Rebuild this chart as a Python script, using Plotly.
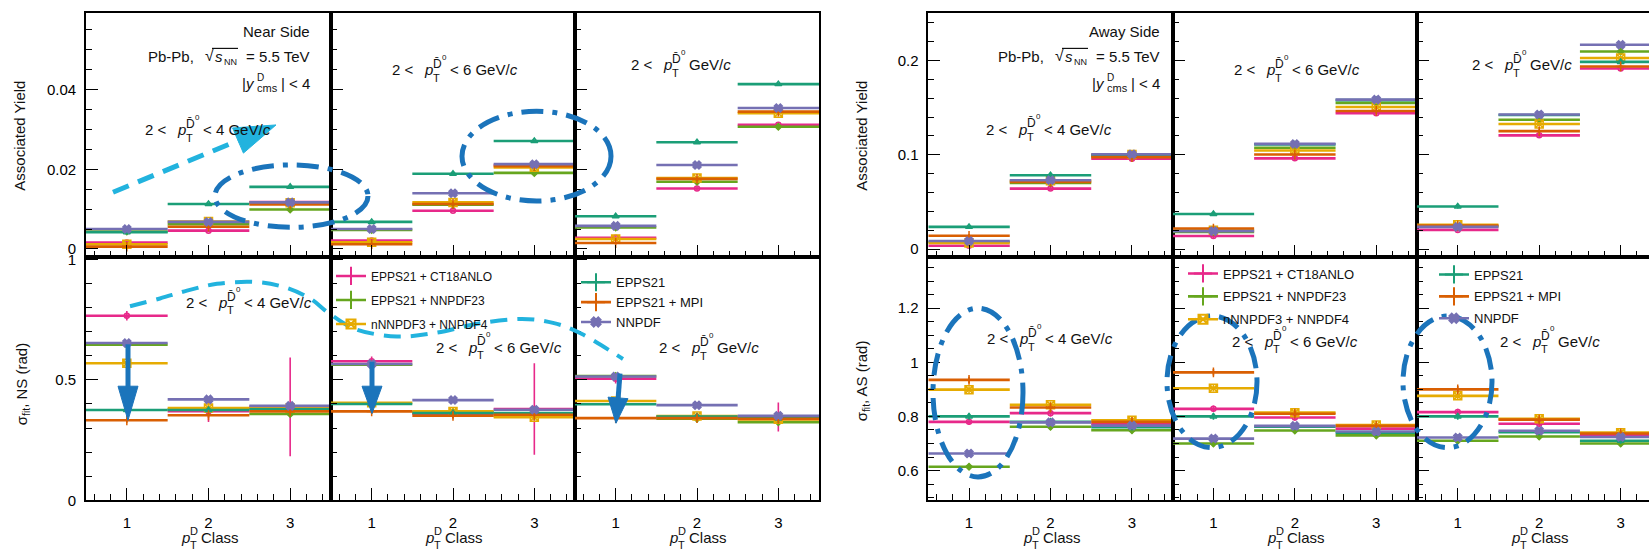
import plotly.graph_objects as go

W, H = 1649, 558
FONT = "Liberation Sans, Arial, Helvetica, sans-serif"

# ---------------------------------------------------------------- data
series = ["EPPS21 + CT18ANLO", "EPPS21 + NNPDF23", "nNNPDF3 + NNPDF4",
          "EPPS21", "EPPS21 + MPI", "NNPDF"]
colors = {
    "EPPS21 + CT18ANLO": "#e7298a",
    "EPPS21 + NNPDF23": "#66a61e",
    "nNNPDF3 + NNPDF4": "#e6ab02",
    "EPPS21": "#1b9e77",
    "EPPS21 + MPI": "#d95f02",
    "NNPDF": "#7570b3",
}
markers = {
    "EPPS21 + CT18ANLO": ("circle-open", 5),
    "EPPS21 + NNPDF23": ("diamond", 5),
    "nNNPDF3 + NNPDF4": ("square-x-open", 8),
    "EPPS21": ("triangle-up-open", 6),
    "EPPS21 + MPI": ("cross-thin-open", 7),
    "NNPDF": ("x", 7),
}
classes = [1, 2, 3]
class_half_width = [0.5, 0.5, 0.5]
# D-meson pT bins (one panel column each): 2-4, 2-6, >2 GeV/c

# Near side, associated yield  [pT bin][class]
ns_yield = {
    "EPPS21 + CT18ANLO": [[0.0016, 0.0046, 0.0118], [0.0021, 0.0096, 0.0211], [0.0028, 0.0152, 0.0312]],
    "EPPS21 + NNPDF23": [[0.0044, 0.0062, 0.0099], [0.0048, 0.0111, 0.0191], [0.0054, 0.0169, 0.0307]],
    "nNNPDF3 + NNPDF4": [[0.0012, 0.0069, 0.0116], [0.0017, 0.0117, 0.0205], [0.0025, 0.0178, 0.0341]],
    "EPPS21": [[0.0042, 0.0113, 0.0156], [0.0068, 0.0189, 0.0271], [0.0082, 0.0268, 0.0414]],
    "EPPS21 + MPI": [[0.0006, 0.0056, 0.0112], [0.0012, 0.0113, 0.0208], [0.0015, 0.0176, 0.0345]],
    "NNPDF": [[0.0050, 0.0068, 0.0117], [0.0050, 0.0140, 0.0213], [0.0058, 0.0211, 0.0354]],
}
ns_yield_err = [0.0004, 0.0004, 0.0004]

# Near side, fitted width sigma (rad)
ns_sigma = {
    "EPPS21 + CT18ANLO": [[0.766, 0.370, 0.388], [0.577, 0.360, 0.379], [0.505, 0.346, 0.346]],
    "EPPS21 + NNPDF23": [[0.646, 0.378, 0.358], [0.563, 0.366, 0.350], [0.516, 0.339, 0.324]],
    "nNNPDF3 + NNPDF4": [[0.569, 0.383, 0.383], [0.405, 0.369, 0.345], [0.412, 0.350, 0.336]],
    "EPPS21": [[0.375, 0.375, 0.378], [0.400, 0.362, 0.362], [0.399, 0.348, 0.340]],
    "EPPS21 + MPI": [[0.332, 0.353, 0.369], [0.369, 0.351, 0.355], [0.341, 0.341, 0.338]],
    "NNPDF": [[0.653, 0.419, 0.392], [0.566, 0.416, 0.376], [0.514, 0.395, 0.351]],
}
ns_sigma_err = {
    "EPPS21 + CT18ANLO": [[0.02, 0.045, 0.205], [0.02, 0.02, 0.19], [0.02, 0.015, 0.06]],
    "EPPS21 + NNPDF23": [[0.01, 0.01, 0.01], [0.01, 0.01, 0.01], [0.01, 0.01, 0.01]],
    "nNNPDF3 + NNPDF4": [[0.01, 0.02, 0.015], [0.01, 0.015, 0.01], [0.01, 0.01, 0.01]],
    "EPPS21": [[0.01, 0.01, 0.01], [0.01, 0.01, 0.01], [0.01, 0.01, 0.01]],
    "EPPS21 + MPI": [[0.01, 0.01, 0.01], [0.01, 0.01, 0.01], [0.01, 0.01, 0.01]],
    "NNPDF": [[0.01, 0.01, 0.01], [0.01, 0.01, 0.01], [0.01, 0.01, 0.01]],
}

# Away side, associated yield
as_yield = {
    "EPPS21 + CT18ANLO": [[0.0035, 0.0641, 0.0958], [0.0138, 0.0962, 0.1440], [0.0203, 0.1206, 0.1916]],
    "EPPS21 + NNPDF23": [[0.0075, 0.0700, 0.0985], [0.0182, 0.1075, 0.1551], [0.0240, 0.1371, 0.2095]],
    "nNNPDF3 + NNPDF4": [[0.0065, 0.0725, 0.1003], [0.0200, 0.1045, 0.1506], [0.0258, 0.1327, 0.2027]],
    "EPPS21": [[0.0235, 0.0782, 0.0995], [0.0372, 0.1110, 0.1580], [0.0451, 0.1422, 0.1985]],
    "EPPS21 + MPI": [[0.0140, 0.0712, 0.0975], [0.0217, 0.1003, 0.1465], [0.0250, 0.1251, 0.1937]],
    "NNPDF": [[0.0085, 0.0730, 0.1005], [0.0190, 0.1115, 0.1585], [0.0235, 0.1427, 0.2168]],
}
as_yield_err = [0.002, 0.002, 0.002]

# Away side, fitted width sigma (rad)
as_sigma = {
    "EPPS21 + CT18ANLO": [[0.780, 0.812, 0.772], [0.828, 0.796, 0.755], [0.816, 0.773, 0.730]],
    "EPPS21 + NNPDF23": [[0.614, 0.762, 0.749], [0.700, 0.748, 0.730], [0.710, 0.726, 0.700]],
    "nNNPDF3 + NNPDF4": [[0.899, 0.843, 0.786], [0.904, 0.814, 0.768], [0.876, 0.791, 0.740]],
    "EPPS21": [[0.800, 0.780, 0.760], [0.800, 0.762, 0.740], [0.800, 0.742, 0.710]],
    "EPPS21 + MPI": [[0.935, 0.833, 0.780], [0.963, 0.810, 0.765], [0.900, 0.788, 0.737]],
    "NNPDF": [[0.663, 0.778, 0.766], [0.718, 0.765, 0.744], [0.722, 0.747, 0.724]],
}
as_sigma_err = [0.012, 0.012, 0.012]

# ---------------------------------------------------------------- geometry helpers
def px(x):
    return x / W


def py(y):
    return 1 - y / H


col_edges = {0: [86, 331, 575, 819], 1: [928.3, 1172.7, 1417, 1661.4]}
row_edges = [7, 257, 507]
y_ranges = {(0, 0): [-0.0019, 0.0593], (0, 1): [0, 1.012],
            (1, 0): [-0.008, 0.2506], (1, 1): [0.49, 1.391]}
y_ticks = {(0, 0): (0.02, 0.005), (0, 1): (0.5, 0.1),
           (1, 0): (0.1, 0.02), (1, 1): (0.2, 0.05)}

panels = {
    (0, 0): (ns_yield, None, ns_yield_err),
    (0, 1): (ns_sigma, ns_sigma_err, None),
    (1, 0): (as_yield, None, as_yield_err),
    (1, 1): (as_sigma, None, as_sigma_err),
}

fig = go.Figure()
layout = {}

for g in (0, 1):
    for r in (0, 1):
        values, err_by_series, err_common = panels[(g, r)]
        for c in range(3):
            idx = g * 6 + r * 3 + c + 1
            x0p, x1p = col_edges[g][c], col_edges[g][c + 1]
            xr = [0.5, 3.5]
            cut = x1p > W
            if cut:
                xr = [0.5, 0.5 + 3 * (W - x0p) / (x1p - x0p)]
                x1p = W
            xs = "" if idx == 1 else str(idx)
            layout["xaxis" + xs] = dict(
                domain=[px(x0p), px(x1p)], range=xr, anchor="y" + xs,
                tickmode="array", tickvals=classes, ticktext=[str(v) for v in classes],
                ticks="inside", ticklen=12, tickwidth=1, tickcolor="black",
                minor=dict(tickmode="linear", tick0=0, dtick=0.2, ticks="inside",
                           ticklen=6, tickcolor="black", tickwidth=1),
                showticklabels=(r == 1), ticklabelstandoff=8,
                tickfont=dict(family=FONT, size=15, color="black"),
                showline=True, linecolor="black", linewidth=1.6, mirror=True,
                showgrid=False, zeroline=False, fixedrange=True,
            )
            dt, mdt = y_ticks[(g, r)]
            layout["yaxis" + xs] = dict(
                domain=[py(row_edges[r + 1]), py(row_edges[r])], range=y_ranges[(g, r)],
                anchor="x" + xs, tickmode="linear", tick0=0, dtick=dt,
                ticks="inside", ticklen=12, tickwidth=1, tickcolor="black",
                minor=dict(tickmode="linear", tick0=0, dtick=mdt, ticks="inside",
                           ticklen=6, tickcolor="black", tickwidth=1),
                showticklabels=(c == 0), ticklabelstandoff=5,
                tickfont=dict(family=FONT, size=15, color="black"),
                showline=True, linecolor="black", linewidth=1.6, mirror=not cut,
                showgrid=False, zeroline=False, fixedrange=True,
            )
            for name in series:
                col = colors[name]
                sym, size = markers[name]
                err = err_by_series[name][c] if err_by_series else err_common
                fig.add_trace(go.Scatter(
                    x=classes, y=values[name][c], mode="markers",
                    marker=dict(symbol=sym, size=size, color=col, line=dict(color=col, width=1.5)),
                    error_x=dict(type="data", array=class_half_width, width=0, thickness=2.6, color=col),
                    error_y=dict(type="data", array=err, width=0, thickness=1.6, color=col),
                    xaxis="x" + xs, yaxis="y" + xs, showlegend=False, name=name,
                ))

# legend entries (two legends per grid)
legend_for = {0: ("legend", "legend3"), 1: ("legend", "legend3"), 2: ("legend", "legend3"),
              3: ("legend2", "legend4"), 4: ("legend2", "legend4"), 5: ("legend2", "legend4")}
legend_marker = {
    "EPPS21 + CT18ANLO": ("cross-thin-open", 13),
    "EPPS21 + NNPDF23": ("cross-thin-open", 13),
    "nNNPDF3 + NNPDF4": ("square-x-open", 9),
    "EPPS21": ("cross-thin-open", 13),
    "EPPS21 + MPI": ("cross-thin-open", 13),
    "NNPDF": ("x", 8),
}
for i, name in enumerate(series):
    for lg in legend_for[i]:
        sym, size = legend_marker[name]
        fig.add_trace(go.Scatter(
            x=[None], y=[None], mode="lines+markers", name=name, legend=lg,
            legendgroup=lg + name,
            line=dict(color=colors[name], width=2.6),
            marker=dict(symbol=sym, size=size, color=colors[name],
                        line=dict(color=colors[name], width=2)),
        ))


def legend_box(x, y, size, gap):
    return dict(x=px(x), y=py(y), xref="paper", yref="paper", xanchor="left", yanchor="top",
                bgcolor="rgba(0,0,0,0)", borderwidth=0, tracegroupgap=gap,
                itemwidth=30, font=dict(family=FONT, size=size, color="#111"))


layout["legend"] = legend_box(331, 262, 12, 5)
layout["legend2"] = legend_box(576, 268, 13, 0)
layout["legend3"] = legend_box(1183, 259, 13, 3)
layout["legend4"] = legend_box(1434, 260, 13, 2)

# ---------------------------------------------------------------- text
annotations = []


def txt(x, y, s, size=15, xanchor="left", angle=0, color="#111"):
    annotations.append(dict(
        x=px(x), y=py(y), xref="paper", yref="paper", text=s, showarrow=False,
        xanchor=xanchor, yanchor="middle", textangle=angle, borderpad=0, borderwidth=0,
        font=dict(family=FONT, size=size, color=color),
    ))


def pt_label(pl, yc, post):
    txt(pl - 10, yc, "2 <", 15, "right")
    txt(pl, yc, "<i>p</i>", 15)
    txt(pl + 9, yc + 8, "T", 11)
    txt(pl + 9, yc - 6, "D\u0304", 12)
    txt(pl + 18, yc - 13, "0", 8)
    txt(pl + 26, yc, post, 15)


def class_title(xc):
    pl = xc - 28
    txt(pl, 545, "<i>p</i>", 15)
    txt(pl + 9, 553, "T", 11)
    txt(pl + 9, 539, "D", 11)
    txt(pl + 20, 545, "Class", 15)


def info(R, side):
    txt(R, 26.5, side, 15, "right")
    txt(R, 51.5, "= 5.5 TeV", 15, "right")
    txt(R - 73, 57, "NN", 9, "right")
    txt(R - 87, 51.5, "<i>s</i>", 15, "right")
    txt(R - 96, 51, "\u221a", 16, "right")
    txt(R - 116, 51.5, "Pb-Pb,", 15, "right")
    txt(R, 79, "| < 4", 15, "right")
    txt(R - 32, 84, "cms", 11, "right")
    txt(R - 53, 73, "D", 10)
    txt(R - 55, 79, "|<i>y</i>", 15, "right")


info(310, "Near Side")
info(1160, "Away Side")

pt_label(177, 127, "< 4 GeV/<i>c</i>")
pt_label(424, 65.5, "< 6 GeV/<i>c</i>")
pt_label(663, 60.5, "GeV/<i>c</i>")
pt_label(218, 304, "< 4 GeV/<i>c</i>")
pt_label(468, 350, "< 6 GeV/<i>c</i>")
pt_label(691, 350.5, "GeV/<i>c</i>")
pt_label(1018, 126.5, "< 4 GeV/<i>c</i>")
pt_label(1266, 65.5, "< 6 GeV/<i>c</i>")
pt_label(1504, 60.5, "GeV/<i>c</i>")
pt_label(1019, 341.5, "< 4 GeV/<i>c</i>")
pt_label(1264, 344, "< 6 GeV/<i>c</i>")
pt_label(1532, 344, "GeV/<i>c</i>")

for xc in (208.5, 453, 697, 1050.5, 1295, 1539):
    class_title(xc)

txt(20, 133, "Associated Yield", 15, "center", -90)
txt(22, 388, "\u03c3<sub>fit</sub>, NS (rad)", 15, "center", -90)
txt(862, 133, "Associated Yield", 15, "center", -90)
txt(862, 385, "\u03c3<sub>fit</sub>, AS (rad)", 15, "center", -90)

# ---------------------------------------------------------------- overlay marks
CYAN = "#22b3de"
BLUE = "#1b74bb"
DASHDOT = "22px,9px,5px,9px"
shapes = []


def pline(x0, y0, x1, y1, color, width, dash="solid"):
    shapes.append(dict(type="line", xref="paper", yref="paper", x0=px(x0), y0=py(y0),
                       x1=px(x1), y1=py(y1), line=dict(color=color, width=width, dash=dash)))


def ellipse(x0, y0, x1, y1):
    shapes.append(dict(type="circle", xref="paper", yref="paper", x0=px(x0), x1=px(x1),
                       y0=py(y1), y1=py(y0), line=dict(color=BLUE, width=5, dash=DASHDOT)))


def head(tip, base_c, half, color):
    tx, ty = tip
    bx, by = base_c
    dx, dy = tx - bx, ty - by
    L = (dx * dx + dy * dy) ** 0.5
    nx, ny = -dy / L, dx / L
    p1 = (bx + nx * half, by + ny * half)
    p2 = (bx - nx * half, by - ny * half)
    path = "M {:.5f},{:.5f} L {:.5f},{:.5f} L {:.5f},{:.5f} Z".format(
        px(tx), py(ty), px(p1[0]), py(p1[1]), px(p2[0]), py(p2[1]))
    shapes.append(dict(type="path", xref="paper", yref="paper", path=path,
                       fillcolor=color, line=dict(color=color, width=1)))


# sqrt bars over s_NN
pline(310 - 98, 43.5, 310 - 72, 43.5, "#111", 1.2)
pline(1160 - 98, 43.5, 1160 - 72, 43.5, "#111", 1.2)

# dashed cyan arrow, near-side yield
pline(113, 191, 238, 138, CYAN, 5, "17px,10px")
head((276, 122), (238, 138), 14, CYAN)

# dash-dot ellipses
ellipse(215, 163, 368, 227)
ellipse(462, 108, 611, 200)
ellipse(933, 310, 1023, 483)
ellipse(1167, 318, 1257, 453)
ellipse(1403, 318, 1492, 453)

# solid blue arrows, near-side widths
for (xa, ya, xb, yb, tip_y) in [(128, 347, 128, 392, 425), (372, 365, 372, 392, 418),
                                (620, 377, 618, 404, 428)]:
    pline(xa, ya, xb, yb, BLUE, 5)
    head((xb - (xa - xb), tip_y), (xb, yb - 2), 10, BLUE)

# dashed cyan curve across the near-side width panels
pts = [(130, 308), (160, 300), (187, 292), (217, 285), (253, 283), (283, 288), (310, 300),
       (330, 316), (357, 332), (397, 339), (437, 335), (477, 326), (520, 321), (553, 325),
       (583, 337), (623, 362)]
path = "M {:.5f},{:.5f}".format(px(pts[0][0]), py(pts[0][1]))
for i in range(len(pts) - 1):
    p0 = pts[i - 1] if i > 0 else pts[i]
    p1, p2 = pts[i], pts[i + 1]
    p3 = pts[i + 2] if i + 2 < len(pts) else pts[i + 1]
    c1 = (p1[0] + (p2[0] - p0[0]) / 6, p1[1] + (p2[1] - p0[1]) / 6)
    c2 = (p2[0] - (p3[0] - p1[0]) / 6, p2[1] - (p3[1] - p1[1]) / 6)
    path += " C {:.5f},{:.5f} {:.5f},{:.5f} {:.5f},{:.5f}".format(
        px(c1[0]), py(c1[1]), px(c2[0]), py(c2[1]), px(p2[0]), py(p2[1]))
shapes.append(dict(type="path", xref="paper", yref="paper", path=path,
                   line=dict(color=CYAN, width=4, dash="17px,10px")))

fig.update_layout(
    width=W, height=H, autosize=False,
    margin=dict(l=0, r=0, t=0, b=0),
    paper_bgcolor="white", plot_bgcolor="white",
    font=dict(family=FONT, size=15, color="#111"),
    annotations=annotations, shapes=shapes,
    **layout,
)

fig.write_html("out.html")
